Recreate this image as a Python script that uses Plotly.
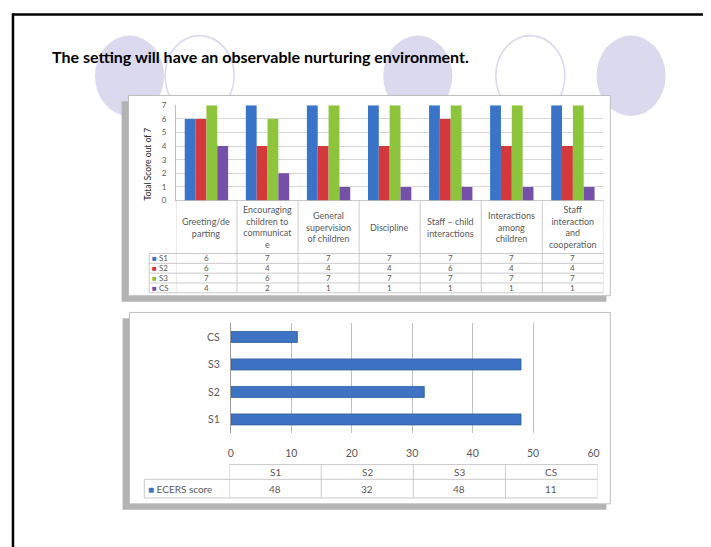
import plotly.graph_objects as go

W, H = 711, 547
OX, OY = 8, 8  # page body margin offset


def fx(p):
    return (p - OX) / W


def fy(p):
    return 1 - (p - OY) / H


# ---------------- data ----------------
title_text = "The setting will have an observable nurturing environment."

categories = ["Greeting/departing", "Encouraging children to communicate",
              "General supervision of children", "Discipline",
              "Staff – child interactions", "Interactions among children",
              "Staff interaction and cooperation"]
category_labels = ["Greeting/de<br>parting",
                   "Encouraging<br>children to<br>communicat<br>e",
                   "General<br>supervision<br>of children",
                   "Discipline",
                   "Staff – child<br>interactions",
                   "Interactions<br>among<br>children",
                   "Staff<br>interaction<br>and<br>cooperation"]
series_names = ["S1", "S2", "S3", "CS"]
s1_scores = [6, 7, 7, 7, 7, 7, 7]
s2_scores = [6, 4, 4, 4, 6, 4, 4]
s3_scores = [7, 6, 7, 7, 7, 7, 7]
cs_scores = [4, 2, 1, 1, 1, 1, 1]
y_ticks_top = [0, 1, 2, 3, 4, 5, 6, 7]
y_title_top = "Total Score out of 7"

ecers_labels = ["S1", "S2", "S3", "CS"]
ecers_scores = [48, 32, 48, 11]
ecers_name = "ECERS score"
x_ticks_bottom = [0, 10, 20, 30, 40, 50, 60]

# ---------------- styles ----------------
series_colors = ["#3A74C9", "#D2383C", "#8CC43C", "#7550A8"]
ecers_color = "#3D73C2"
lavender = "#DBD9EE"
txt_gray = "#595959"
line_gray = "#C9C9C9"
FONT = "Lato"

series_values = [s1_scores, s2_scores, s3_scores, cs_scores]

fig = go.Figure()

for name, vals, col in zip(series_names, series_values, series_colors):
    fig.add_trace(go.Bar(x=categories, y=vals, name=name, marker_color=col,
                         marker_line_width=0, xaxis="x", yaxis="y",
                         showlegend=False, hoverinfo="skip"))

fig.add_trace(go.Bar(x=ecers_scores, y=ecers_labels, orientation="h",
                     name=ecers_name, marker_color=ecers_color,
                     marker_line=dict(color="#2E5C9E", width=0.8),
                     width=0.4, xaxis="x2", yaxis="y2", showlegend=False,
                     hoverinfo="skip"))

# invisible helper trace so the bottom table axis exists
fig.add_trace(go.Scatter(x=ecers_labels, y=[None] * len(ecers_labels),
                         xaxis="x3", yaxis="y3", mode="markers",
                         showlegend=False, hoverinfo="skip"))

# ---------------- geometry (pixels) ----------------
top_plot = dict(x0=175, x1=608, y0=102, y1=199)
top_rows = [253, 263, 273, 283, 293]
legend_left_top = 148
bot_plot = dict(x0=230.7, x1=598, y0=324, y1=436)
bot_table = dict(x0=229, x1=602, y0=468, ym=483, y1=502, leg=143)

shapes = []
# decorative circles
circles = [(128, "fill"), (199, "line"), (420, "fill"), (534, "line"), (636, "fill")]
rx, ry, cyc = 35, 41, 72
for cxp, kind in circles:
    base = dict(type="circle", xref="paper", yref="paper",
                x0=fx(cxp - rx), x1=fx(cxp + rx), y0=fy(cyc + ry), y1=fy(cyc - ry),
                layer="below")
    if kind == "fill":
        base.update(fillcolor=lavender, line=dict(width=0))
    else:
        base.update(fillcolor="rgba(0,0,0,0)", line=dict(color=lavender, width=1.6))
    shapes.append(base)

# chart boxes with shadows
for bx0, by0, bx1, by1 in [(127, 92, 615, 296), (128, 313, 615, 508)]:
    shapes.append(dict(type="rect", xref="paper", yref="paper",
                       x0=fx(bx0 - 7), x1=fx(bx1 - 4), y0=fy(by1 + 6), y1=fy(by0 + 6),
                       fillcolor="#B3B3B3", line=dict(width=0), layer="below"))
    shapes.append(dict(type="rect", xref="paper", yref="paper",
                       x0=fx(bx0), x1=fx(bx1), y0=fy(by1), y1=fy(by0),
                       fillcolor="white", line=dict(color="#BDBDBD", width=1), layer="below"))

# top table lines
shapes.append(dict(type="line", xref="paper", yref="paper",
                   x0=fx(top_plot["x0"]), x1=fx(top_plot["x1"]),
                   y0=fy(top_plot["y1"]), y1=fy(top_plot["y1"]),
                   line=dict(color=line_gray, width=1), layer="below"))
for rr in top_rows:
    shapes.append(dict(type="line", xref="paper", yref="paper",
                       x0=fx(legend_left_top), x1=fx(top_plot["x1"]), y0=fy(rr), y1=fy(rr),
                       line=dict(color=line_gray, width=1), layer="below"))
for i in range(len(categories) + 1):
    shapes.append(dict(type="line", xref="x", yref="paper", x0=i - 0.5, x1=i - 0.5,
                       y0=fy(top_plot["y1"]), y1=fy(top_rows[-1]),
                       line=dict(color=line_gray, width=1), layer="below"))
shapes.append(dict(type="line", xref="paper", yref="paper",
                   x0=fx(legend_left_top), x1=fx(legend_left_top),
                   y0=fy(top_rows[0]), y1=fy(top_rows[-1]),
                   line=dict(color=line_gray, width=1), layer="below"))

# bottom table lines
shapes.append(dict(type="line", xref="paper", yref="paper",
                   x0=fx(bot_table["x0"]), x1=fx(bot_table["x1"]),
                   y0=fy(bot_table["y0"]), y1=fy(bot_table["y0"]),
                   line=dict(color=line_gray, width=1), layer="below"))
for rr in (bot_table["ym"], bot_table["y1"]):
    shapes.append(dict(type="line", xref="paper", yref="paper",
                       x0=fx(bot_table["leg"]), x1=fx(bot_table["x1"]), y0=fy(rr), y1=fy(rr),
                       line=dict(color=line_gray, width=1), layer="below"))
for i in range(len(ecers_labels) + 1):
    shapes.append(dict(type="line", xref="x3", yref="paper", x0=i - 0.5, x1=i - 0.5,
                       y0=fy(bot_table["y0"]), y1=fy(bot_table["y1"]),
                       line=dict(color=line_gray, width=1), layer="below"))
shapes.append(dict(type="line", xref="paper", yref="paper",
                   x0=fx(bot_table["leg"]), x1=fx(bot_table["leg"]),
                   y0=fy(bot_table["ym"]), y1=fy(bot_table["y1"]),
                   line=dict(color=line_gray, width=1), layer="below"))

# slide border
shapes.append(dict(type="line", xref="paper", yref="paper", x0=fx(9), x1=1.05,
                   y0=fy(9.5), y1=fy(9.5), line=dict(color="black", width=2.5)))
shapes.append(dict(type="line", xref="paper", yref="paper", x0=fx(10), x1=fx(10),
                   y0=fy(8.5), y1=-0.05, line=dict(color="black", width=2.5)))

# ---------------- annotations ----------------
ann = []
ann.append(dict(text="<b>" + title_text + "</b>", x=fx(48), y=fy(52), xref="paper",
                yref="paper", xanchor="left", yanchor="middle", showarrow=False,
                font=dict(family=FONT, size=16, color="black")))
ann.append(dict(text=y_title_top, x=fx(147), y=fy(162), xref="paper", yref="paper",
                textangle=-90, showarrow=False, xanchor="center", yanchor="middle",
                font=dict(family=FONT, size=8.5, color="#262626")))

hdr_mid = (top_plot["y1"] + top_rows[0]) / 2
for cat, lab in zip(categories, category_labels):
    ann.append(dict(text=lab, x=cat, xref="x", y=fy(hdr_mid), yref="paper",
                    showarrow=False, xanchor="center", yanchor="middle", align="center",
                    font=dict(family=FONT, size=9, color=txt_gray)))
for r, (name, vals, col) in enumerate(zip(series_names, series_values, series_colors)):
    cy = (top_rows[r] + top_rows[r + 1]) / 2
    ann.append(dict(text=f"<span style='color:{col}'>■</span> {name}", x=fx(legend_left_top + 1),
                    y=fy(cy), xref="paper", yref="paper", xanchor="left", yanchor="middle",
                    showarrow=False, font=dict(family=FONT, size=8, color=txt_gray)))
    for cat, v in zip(categories, vals):
        ann.append(dict(text=str(v), x=cat, xref="x", y=fy(cy), yref="paper",
                        showarrow=False, xanchor="center", yanchor="middle",
                        font=dict(family=FONT, size=8, color=txt_gray)))

# bottom table text
for lab, v in zip(ecers_labels, ecers_scores):
    ann.append(dict(text=lab, x=lab, xref="x3", y=fy((bot_table["y0"] + bot_table["ym"]) / 2),
                    yref="paper", showarrow=False, xanchor="center", yanchor="middle",
                    font=dict(family=FONT, size=10, color=txt_gray)))
    ann.append(dict(text=str(v), x=lab, xref="x3", y=fy((bot_table["ym"] + bot_table["y1"]) / 2),
                    yref="paper", showarrow=False, xanchor="center", yanchor="middle",
                    font=dict(family=FONT, size=10, color=txt_gray)))
ann.append(dict(text=f"<span style='color:{ecers_color}'>■</span> {ecers_name}",
                x=fx(bot_table["leg"] + 2), y=fy((bot_table["ym"] + bot_table["y1"]) / 2),
                xref="paper", yref="paper", xanchor="left", yanchor="middle", showarrow=False,
                font=dict(family=FONT, size=10, color=txt_gray)))

fig.update_layout(
    width=W, height=H, margin=dict(l=0, r=0, t=0, b=0),
    paper_bgcolor="white", plot_bgcolor="rgba(0,0,0,0)",
    barmode="group", bargap=0.29, bargroupgap=0,
    showlegend=False, shapes=shapes, annotations=ann,
    font=dict(family=FONT, color=txt_gray),
    xaxis=dict(domain=[fx(top_plot["x0"]), fx(top_plot["x1"])], type="category",
               categoryarray=categories, categoryorder="array", range=[-0.5, 6.5],
               showticklabels=False, showgrid=False, zeroline=False, fixedrange=True,
               anchor="y"),
    yaxis=dict(domain=[fy(top_plot["y1"]), fy(top_plot["y0"])], range=[0, 7],
               tickvals=y_ticks_top, showgrid=True, gridcolor="#D6D6D6", gridwidth=1,
               zeroline=False, showline=True, linecolor="#BFBFBF", ticks="",
               ticklabelstandoff=7, tickfont=dict(size=8, color=txt_gray, family=FONT),
               anchor="x"),
    xaxis2=dict(domain=[fx(bot_plot["x0"]), fx(bot_plot["x1"])], range=[0, 60],
                tickvals=x_ticks_bottom, showgrid=True, gridcolor="#BFBFBF", gridwidth=1,
                zeroline=False, showline=False, ticks="", ticklabelstandoff=12,
                tickfont=dict(size=10.5, color=txt_gray, family=FONT), anchor="y2"),
    yaxis2=dict(domain=[fy(bot_plot["y1"]), fy(bot_plot["y0"])], type="category",
                categoryarray=ecers_labels, categoryorder="array", range=[-0.5, 3.5],
                showgrid=False, zeroline=False, showline=True, linecolor="#9A9A9A",
                ticks="", ticklabelstandoff=8,
                tickfont=dict(size=10.5, color=txt_gray, family=FONT), anchor="x2"),
    xaxis3=dict(domain=[fx(bot_table["x0"]), fx(bot_table["x1"])], type="category",
                categoryarray=ecers_labels, categoryorder="array", range=[-0.5, 3.5],
                visible=False, anchor="y3"),
    yaxis3=dict(domain=[fy(bot_table["y1"]), fy(bot_table["y0"])], range=[0, 1],
                visible=False, anchor="x3"),
)

fig.write_html("out.html")
